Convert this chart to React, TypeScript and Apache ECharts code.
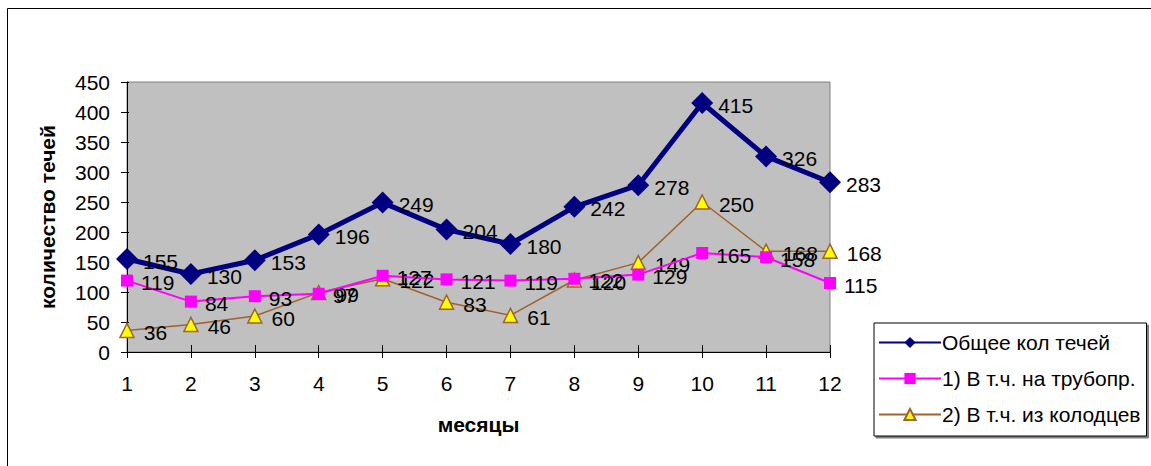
import React, { useEffect, useRef } from "react";
import * as echarts from "echarts";

const months = ["1", "2", "3", "4", "5", "6", "7", "8", "9", "10", "11", "12"];
const totalLeaks = [155, 130, 153, 196, 249, 204, 180, 242, 278, 415, 326, 283];
const pipeLeaks = [119, 84, 93, 97, 127, 121, 119, 122, 129, 165, 158, 115];
const wellLeaks = [36, 46, 60, 99, 122, 83, 61, 120, 149, 250, 168, 168];
const seriesNames = ["Общее кол течей", "1) В т.ч. на трубопр.", "2) В т.ч. из колодцев"];

const FONT = "Liberation Sans, Arial, sans-serif";
const FS = 21;

export default function App() {
  const ref = useRef<HTMLDivElement>(null);
  useEffect(() => {
    if (!ref.current) return;
    const chart = echarts.init(ref.current, null, { renderer: "svg" });
    const labelStyle = (dist: number) => ({
      show: true,
      position: "right",
      distance: dist,
      offset: [0, 2],
      color: "#000",
      fontSize: FS,
      fontFamily: FONT,
    });
    chart.setOption({
      animation: false,
      textStyle: { fontFamily: FONT },
      graphic: [
        {
          type: "rect",
          shape: { x: 7.5, y: 8.5, width: 1200, height: 500 },
          style: { fill: "none", stroke: "#000", lineWidth: 1 },
          z: 0,
        },
      ],
      grid: {
        left: 127,
        top: 82,
        width: 703,
        height: 270,
        show: true,
        backgroundColor: "#C0C0C0",
        borderColor: "#808080",
        borderWidth: 1,
      },
      legend: {
        orient: "vertical",
        left: 874,
        top: 323,
        padding: [9, 6, 11, 4],
        itemGap: 15,
        itemWidth: 62,
        itemHeight: 14,
        borderColor: "#000",
        borderWidth: 1,
        backgroundColor: "#fff",
        shadowColor: "rgba(0,0,0,0.5)",
        shadowOffsetX: 2,
        shadowOffsetY: 2,
        textStyle: { fontSize: FS, color: "#000", fontFamily: FONT, padding: [0, 0, 0, -4] },
        data: seriesNames,
      },
      xAxis: [
        {
          type: "category",
          data: months,
          boundaryGap: false,
          name: "месяцы",
          nameLocation: "middle",
          nameGap: 62,
          nameTextStyle: { fontSize: FS, fontWeight: "bold", color: "#000", fontFamily: FONT },
          axisLine: { lineStyle: { color: "#000", width: 1 } },
          axisTick: { show: true, inside: false, length: 6, lineStyle: { color: "#000" } },
          axisLabel: { color: "#000", fontSize: FS, margin: 21, fontFamily: FONT },
          splitLine: { show: false },
        },
        {
          type: "category",
          data: months,
          boundaryGap: false,
          position: "bottom",
          axisLine: { show: false },
          axisTick: { show: true, inside: true, length: 7, lineStyle: { color: "#000" } },
          axisLabel: { show: false },
          splitLine: { show: false },
        },
      ],
      yAxis: [
        {
          type: "value",
          min: 0,
          max: 450,
          interval: 50,
          name: "количество течей",
          nameLocation: "middle",
          nameGap: 69,
          nameTextStyle: { fontSize: FS, fontWeight: "bold", color: "#000", fontFamily: FONT },
          axisLine: { show: true, lineStyle: { color: "#000", width: 1 } },
          axisTick: { show: true, inside: false, length: 6, lineStyle: { color: "#000" } },
          axisLabel: { color: "#000", fontSize: FS, margin: 17, fontFamily: FONT },
          splitLine: { show: false },
        },
        {
          type: "value",
          min: 0,
          max: 450,
          interval: 50,
          position: "left",
          axisLine: { show: false },
          axisTick: { show: true, inside: true, length: 2, lineStyle: { color: "#000" } },
          axisLabel: { show: false },
          splitLine: { show: false },
        },
      ],
      series: [
        {
          name: seriesNames[2],
          type: "line",
          data: wellLeaks,
          symbol: "triangle",
          symbolSize: 14,
          itemStyle: { color: "#FFFF00", borderColor: "#A0622D", borderWidth: 1.5 },
          lineStyle: { color: "#A0622D", width: 1.5 },
          label: labelStyle(9),
          z: 2,
        },
        {
          name: seriesNames[1],
          type: "line",
          data: pipeLeaks,
          symbol: "rect",
          symbolSize: 12,
          itemStyle: { color: "#FF00FF" },
          lineStyle: { color: "#FF00FF", width: 2 },
          label: labelStyle(8),
          z: 3,
        },
        {
          name: seriesNames[0],
          type: "line",
          data: totalLeaks,
          symbol: "diamond",
          symbolSize: 22,
          itemStyle: { color: "#000080" },
          lineStyle: { color: "#000080", width: 5 },
          label: labelStyle(5),
          z: 4,
        },
      ],
    });
    return () => chart.dispose();
  }, []);
  return (
    <div
      ref={ref}
      style={{ position: "absolute", left: 0, top: 0, width: 1151, height: 466, background: "#fff" }}
    />
  );
}
